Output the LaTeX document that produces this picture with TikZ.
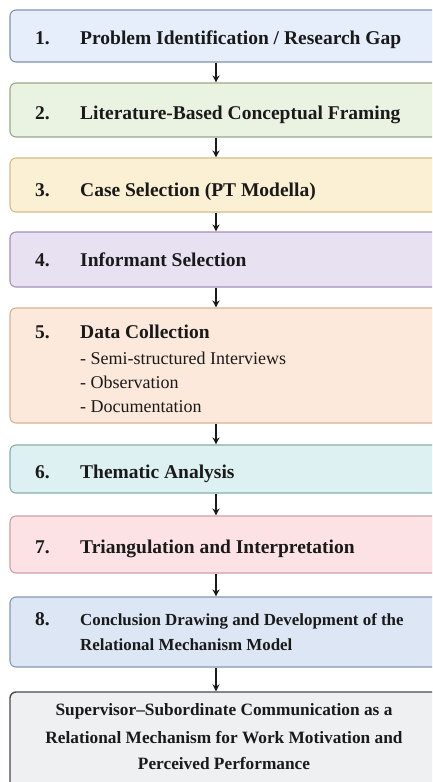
\documentclass[tikz,border=0pt]{standalone}
\usepackage{fontspec}
\setmainfont{Liberation Serif}
\usetikzlibrary{arrows.meta}

% box fills and outlines
\definecolor{f1}{HTML}{E6EEFB}\definecolor{l1}{HTML}{8491AB}
\definecolor{f2}{HTML}{EAF3E1}\definecolor{l2}{HTML}{97A987}
\definecolor{f3}{HTML}{FCF0D4}\definecolor{l3}{HTML}{D3BE88}
\definecolor{f4}{HTML}{E8E1F2}\definecolor{l4}{HTML}{A291B9}
\definecolor{f5}{HTML}{FCE9DB}\definecolor{l5}{HTML}{D4B296}
\definecolor{f6}{HTML}{DDF1F2}\definecolor{l6}{HTML}{88AEA9}
\definecolor{f7}{HTML}{FCE2E4}\definecolor{l7}{HTML}{D09DA2}
\definecolor{f8}{HTML}{DCE6F4}\definecolor{l8}{HTML}{8697B0}
\definecolor{f9}{HTML}{EFF0F2}\definecolor{l9}{HTML}{4A4A4A}
\definecolor{ink}{HTML}{1A1A1A}

\tikzset{
  stepbox/.style={rectangle, rounded corners=6pt, minimum width=428pt,
    inner sep=0pt, line width=1.1pt},
  numtxt/.style={anchor=base west, inner sep=0pt, text=ink,
    font=\bfseries\fontsize{19.5}{22}\selectfont},
  ttltxt/.style={anchor=base west, inner sep=0pt, text=ink,
    font=\bfseries\fontsize{19.5}{22}\selectfont},
  subtxt/.style={anchor=base west, inner sep=0pt, text=ink,
    font=\fontsize{18}{20}\selectfont},
  smalltxt/.style={anchor=base west, inner sep=0pt, text=ink,
    font=\bfseries\fontsize{16.9}{20}\selectfont},
  endtxt/.style={anchor=base, inner sep=0pt, text=ink,
    font=\bfseries\fontsize{17.3}{20}\selectfont},
  flow/.style={line width=1.4pt, draw=ink,
    -{Stealth[length=7pt,width=7pt]}}
}

\begin{document}
\begin{tikzpicture}[x=1pt,y=-1pt]
\path[use as bounding box, clip] (0,0) rectangle (432,782);
\fill[white] (0,0) rectangle (432,782);

% step boxes
\node[stepbox, fill=f1, draw=l1, minimum height=52pt]  (b1) at (224,36) {};
\node[stepbox, fill=f2, draw=l2, minimum height=54pt]  (b2) at (224,110) {};
\node[stepbox, fill=f3, draw=l3, minimum height=54pt]  (b3) at (224,185) {};
\node[stepbox, fill=f4, draw=l4, minimum height=55pt]  (b4) at (224,259.5) {};
\node[stepbox, fill=f5, draw=l5, minimum height=115pt] (b5) at (224,365.5) {};
\node[stepbox, fill=f6, draw=l6, minimum height=48pt]  (b6) at (224,469) {};
\node[stepbox, fill=f7, draw=l7, minimum height=57pt]  (b7) at (224,544.5) {};
\node[stepbox, fill=f8, draw=l8, minimum height=70pt]  (b8) at (224,632) {};
\node[stepbox, fill=f9, draw=l9, minimum height=104pt, line width=1.4pt] (b9) at (224,744) {};

% labels
\node[numtxt] (n1) at (35,44) {1.};
\node[ttltxt] (t1) at (80,44) {Problem Identification / Research Gap};
\node[numtxt] (n2) at (35,119.5) {2.};
\node[ttltxt] (t2) at (80,119.5) {Literature-Based Conceptual Framing};
\node[numtxt] (n3) at (35,196) {3.};
\node[ttltxt] (t3) at (80,196) {Case Selection (PT Modella)};
\node[numtxt] (n4) at (35,266) {4.};
\node[ttltxt] (t4) at (80,266) {Informant Selection};
\node[numtxt] (n5) at (35,338) {5.};
\node[ttltxt] (t5) at (80,338) {Data Collection};
\node[subtxt] (s1) at (80,364) {- Semi-structured Interviews};
\node[subtxt] (s2) at (80,388) {- Observation};
\node[subtxt] (s3) at (80,412) {- Documentation};
\node[numtxt] (n6) at (35,478) {6.};
\node[ttltxt] (t6) at (80,478) {Thematic Analysis};
\node[numtxt] (n7) at (35,553) {7.};
\node[ttltxt] (t7) at (80,553) {Triangulation and Interpretation};
\node[numtxt] (n8) at (35,625) {8.};
\node[smalltxt] (t8a) at (80,625) {Conclusion Drawing and Development of the};
\node[smalltxt] (t8b) at (80,650) {Relational Mechanism Model};
\node[endtxt] (e1) at (224,715) {Supervisor–Subordinate Communication as a};
\node[endtxt] (e2) at (224,743) {Relational Mechanism for Work Motivation and};
\node[endtxt] (e3) at (224,769) {Perceived Performance};

% connectors
\coordinate (ax) at (216,0);
\foreach \a/\b in {b1/b2,b2/b3,b3/b4,b4/b5,b5/b6,b6/b7,b7/b8,b8/b9}
  \draw[flow] (\a.south -| ax) -- (\b.north -| ax);
\end{tikzpicture}
\end{document}
